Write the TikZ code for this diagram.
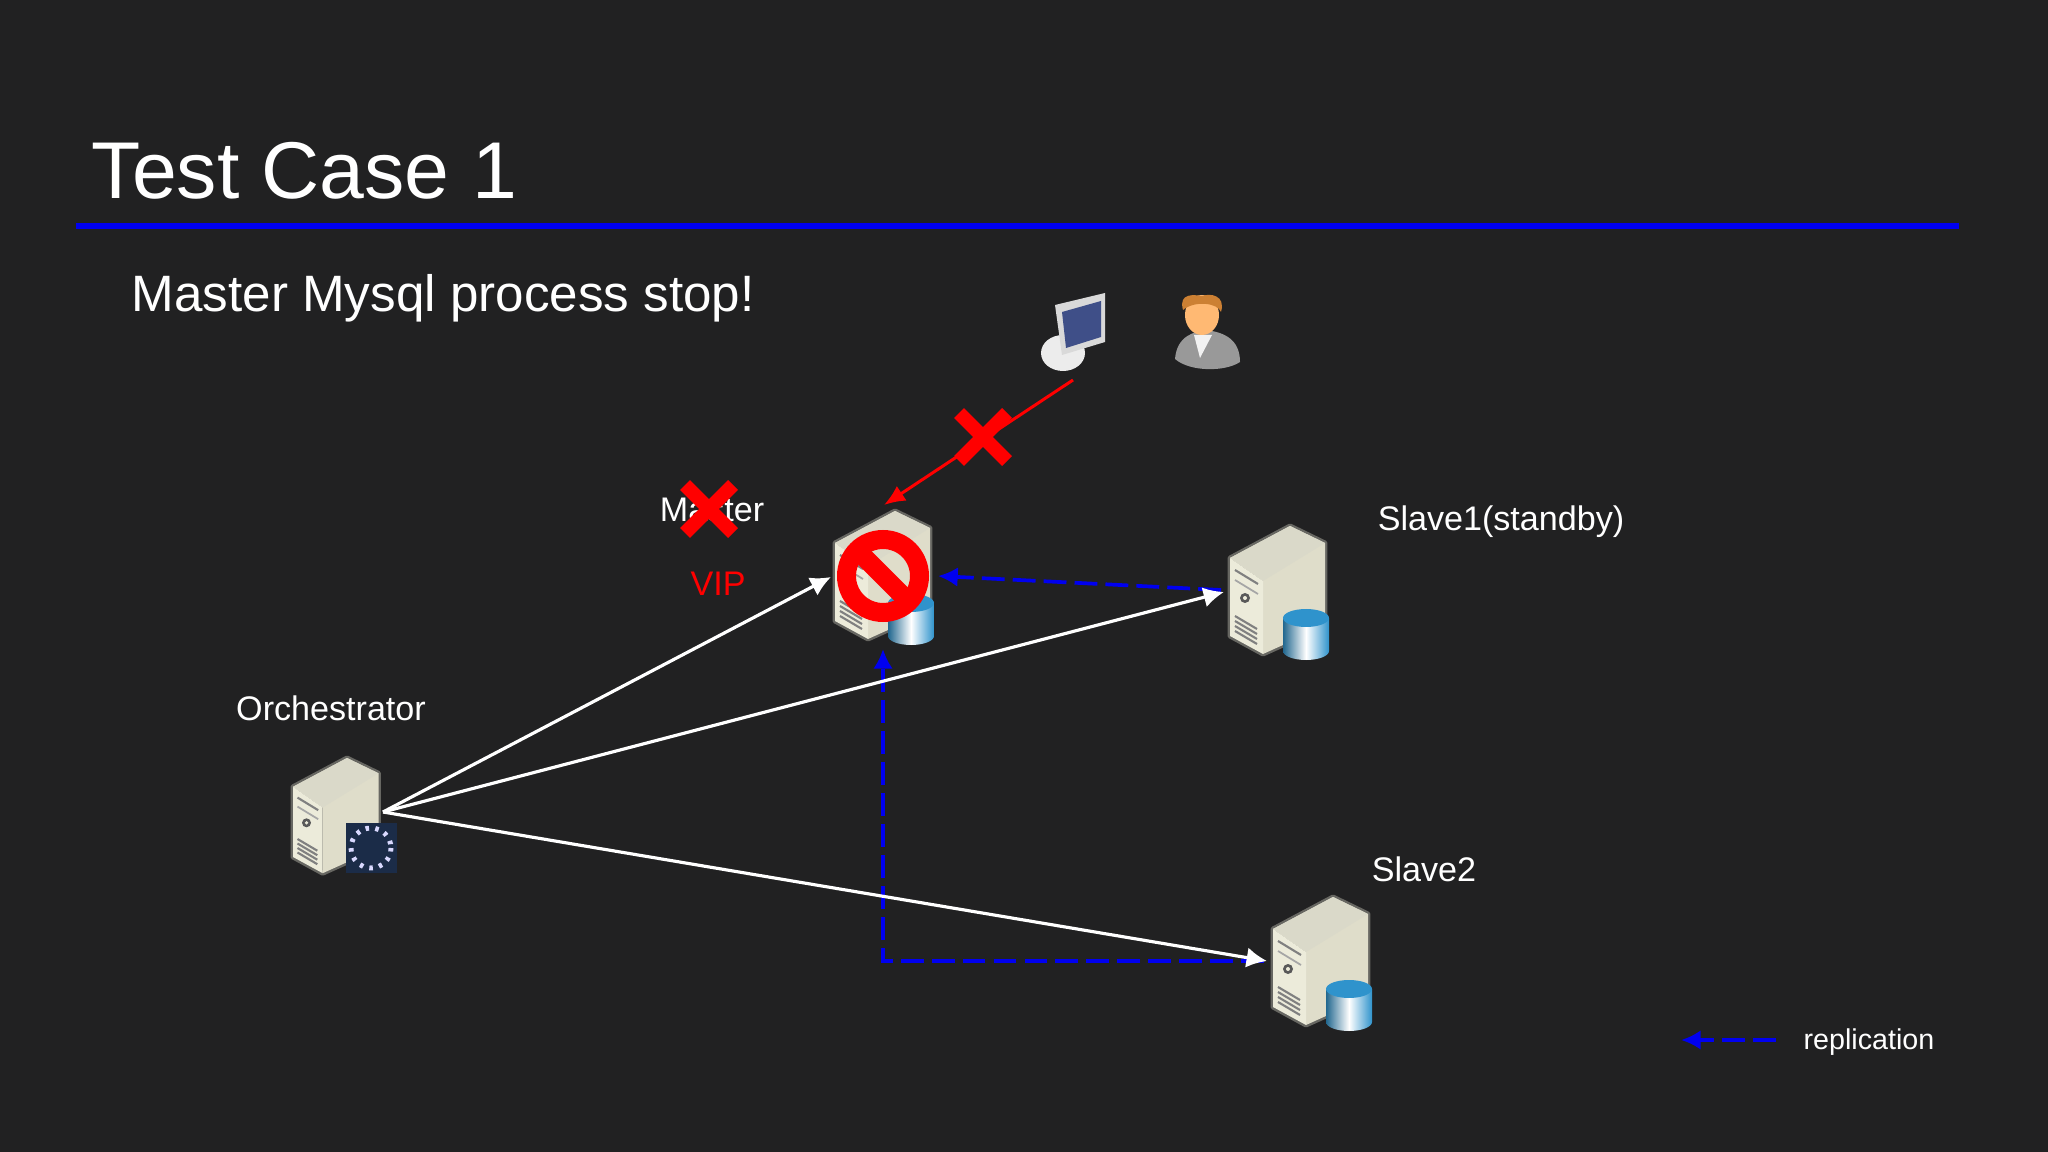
\documentclass[tikz,border=0pt]{standalone}
\usepackage{fontspec}
\setmainfont{Liberation Sans}
\usetikzlibrary{arrows.meta}
\definecolor{slidebg}{HTML}{212122}
\definecolor{ruleblue}{HTML}{0000F0}
\definecolor{casecream}{HTML}{ECEBDA}
\definecolor{caseside}{HTML}{DFDDCA}
\definecolor{casetop}{HTML}{DAD9C9}
\definecolor{badgenavy}{HTML}{1B2C48}
\definecolor{drumblue}{HTML}{2F93CC}
\definecolor{screenblue}{HTML}{3F4F88}
\tikzset{
  label/.style={text=white,font=\fontsize{9.7pt}{11pt}\selectfont,inner sep=0pt},
  ctrl/.style={white,line width=0.9pt,-{Latex[length=5.8pt,width=5.8pt]}},
  repl/.style={blue!94!black,line width=1.05pt,dash pattern=on 6.5pt off 2.3pt,-{Latex[length=5.6pt,width=5.6pt]}},
  cross/.style={red,line width=4pt},
  servercase/.pic={
    \draw[casecream,opacity=0.35,line width=1.4pt,line join=round] (0,0) -- (35,17) -- (35,100) -- (-27,128) -- (-60,110) -- (-60,32) -- cycle;
    \fill[caseside] (0,0) -- (35,17) -- (35,100) -- (-27,128) -- (-27,55) -- (-60,32) -- cycle;
    \fill[casetop] (0,0) -- (35,17) -- (-27,55) -- (-60,32) -- cycle;
    \fill[casecream] (-60,32) -- (-27,55) -- (-27,128) -- (-60,110) -- cycle;
    \draw[gray,line width=0.6pt] (-55,44) -- (-32,58);
    \draw[gray!70,line width=0.5pt] (-55,54) -- (-32,68);
    \fill[gray!70!black] (-45,72) circle (5);
    \fill[casecream] (-45,72) circle (2);
    \foreach \i in {0,1,2,3} {
      \draw[gray,line width=0.6pt] (-55,90+5*\i) -- (-33,103+5*\i);
    }
  },
  dbdrum/.pic={
    \path[left color=drumblue!70!black,right color=drumblue,middle color=white]
      (-23,0) -- (-23,33) arc[start angle=180,end angle=0,x radius=23,y radius=9] -- (23,0) -- cycle;
    \fill[drumblue] (0,0) ellipse[x radius=23,y radius=9];
  },
}
\begin{document}
\begin{tikzpicture}[x=0.01cm,y=-0.01cm]
\fill[slidebg] (0,0) rectangle (2048,1152);

\node[anchor=base west,text=white,inner sep=0pt,font=\fontsize{22.9pt}{28pt}\selectfont] (title) at (91,199) {Test Case 1};
\coordinate (ruleleft) at (76,226);
\coordinate (ruleright) at (1959,226);
\draw[ruleblue,line width=1.6pt] (ruleleft) -- (ruleright);
\node[anchor=base west,text=white,inner sep=0pt,font=\fontsize{14.55pt}{17pt}\selectfont] (subtitle) at (131,312) {Master Mysql process stop!};

\pic at (895,511) {servercase};
\pic at (911,603) {dbdrum};
\pic at (1290,526) {servercase};
\pic at (1306,618) {dbdrum};
\pic at (1333,897) {servercase};
\pic at (1349,989) {dbdrum};
\pic[scale=0.9] at (347,758) {servercase};

\fill[badgenavy] (346,823) rectangle (397,873);
\draw[white!85!blue,line width=1.4pt,dash pattern=on 1pt off 1.8pt] (371,848) circle (20);

\fill[white!85!gray] (1063,353) ellipse[x radius=22,y radius=18];
\fill[white!85!black] (1055,305) -- (1105,293) -- (1105,342) -- (1062,355) -- cycle;
\fill[screenblue] (1062,312) -- (1101,301) -- (1101,337) -- (1066,348) -- cycle;

\fill[gray!80] (1175,359) .. controls (1177,335) and (1195,332) .. (1205,330) .. controls (1225,332) and (1240,340) .. (1240,362) .. controls (1225,372) and (1190,372) .. (1175,359) -- cycle;
\fill[white!90!gray] (1194,335) -- (1212,335) -- (1200,358) -- cycle;
\fill[orange!55!white] (1202,315) ellipse[x radius=17,y radius=20];
\fill[brown!80!orange] (1183,310) .. controls (1178,292) and (1195,295) .. (1202,296) .. controls (1210,293) and (1226,295) .. (1221,312) .. controls (1218,303) and (1195,300) .. (1183,310) -- cycle;

\node[label] (masterlabel) at (712,510) {Master};
\node[label,text=red] (viplabel) at (718,584) {VIP};
\node[label] (slaveonelabel) at (1501,522) {Slave1(standby)};
\node[label] (orchlabel) at (331,708) {Orchestrator};
\node[label] (slavetwolabel) at (1424,869) {Slave2};
\node[label,font=\fontsize{8.15pt}{10pt}\selectfont] (repllabel) at (1869,1042) {replication};

\coordinate (orchout) at (383,812);
\coordinate (masterin) at (831,577);
\coordinate (slaveonein) at (1224,592);
\coordinate (slavetwoin) at (1267,961);
\coordinate (masterright) at (938,576);
\coordinate (slaveoneout) at (1221,590);
\coordinate (slavetwoout) at (1264,961);
\coordinate (replbend) at (883,961);
\coordinate (masterbottom) at (883,649);
\coordinate (clientout) at (1073,380);
\coordinate (mastertop) at (884,505);
\coordinate (legendstart) at (1776,1040);
\coordinate (legendend) at (1681,1040);

\draw[repl] (slaveoneout) -- (masterright);
\draw[repl] (slavetwoout) -- (replbend) -- (masterbottom);
\draw[repl] (legendstart) -- (legendend);
\draw[ctrl] (orchout) -- (masterin);
\draw[ctrl] (orchout) -- (slaveonein);
\draw[ctrl] (orchout) -- (slavetwoin);

\draw[red,line width=5.4pt] (883,576) circle (36.5);
\draw[red,line width=5.4pt] (857,550) -- (909,602);

\draw[cross] (685,485) -- (733,533);
\draw[cross] (685,533) -- (733,485);
\draw[cross] (959,413) -- (1007,461);
\draw[cross] (959,461) -- (1007,413);
\draw[red,line width=0.85pt,-{Latex[length=6pt,width=5pt]}] (clientout) -- (mastertop);
\end{tikzpicture}
\end{document}
